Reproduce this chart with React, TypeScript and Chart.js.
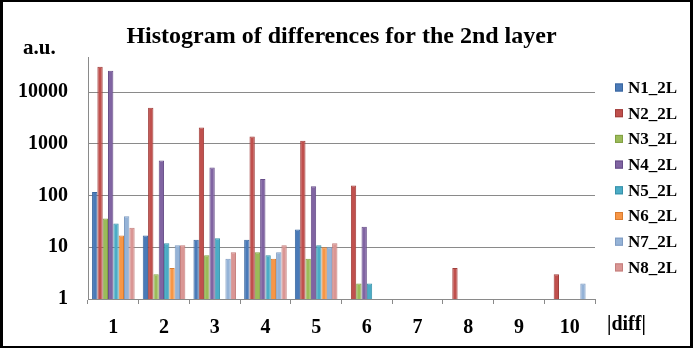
import React, { useEffect, useRef } from "react";
import { Chart, registerables } from "chart.js";

Chart.register(...registerables);

const categories = ["1", "2", "3", "4", "5", "6", "7", "8", "9", "10"];
const seriesNames = ["N1_2L", "N2_2L", "N3_2L", "N4_2L", "N5_2L", "N6_2L", "N7_2L", "N8_2L"];

const n1 = [118, 17, 14, 14, 22, null, null, null, null, null];
const n2 = [31000, 5000, 2070, 1390, 1150, 156, null, 4, null, 3];
const n3 = [36, 3, 7, 8, 6, 2, null, null, null, null];
const n4 = [26000, 480, 350, 210, 152, 25, null, null, null, null];
const n5 = [29, 12, 15, 7, 11, 2, null, null, null, null];
const n6 = [17, 4, null, 6, 10, null, null, null, null, null];
const n7 = [40, 11, 6, 8, 10, null, null, null, null, 2];
const n8 = [24, 11, 8, 11, 12, null, null, null, null, null];

const seriesValues = [n1, n2, n3, n4, n5, n6, n7, n8];

const fillColors = ["#4a7ab8", "#c0504d", "#9bbb59", "#8064a2", "#4bacc6", "#f79646", "#95b3d7", "#da9694"];
const edgeColors = ["#3a679f", "#a03e3b", "#82a043", "#664c88", "#3791a9", "#d97c30", "#7f9cc2", "#c47e7c"];

const yTickValues = [1, 10, 100, 1000, 10000];

const titleText = "Histogram of differences for the 2nd layer";
const yUnitText = "a.u.";
const xUnitText = "|diff|";

const SERIF = '"Liberation Serif", "Times New Roman", serif';

const textPlugin = {
  id: "textPlugin",
  afterDraw(chart: any) {
    const ctx = chart.ctx as CanvasRenderingContext2D;
    ctx.save();
    ctx.fillStyle = "#000";
    ctx.textBaseline = "alphabetic";
    ctx.font = `bold 24px ${SERIF}`;
    ctx.textAlign = "center";
    ctx.fillText(titleText, 341.5, 43);
    ctx.font = `bold 21px ${SERIF}`;
    ctx.textAlign = "left";
    ctx.fillText(yUnitText, 23, 53.5);
    ctx.font = `bold 20px ${SERIF}`;
    ctx.fillText(xUnitText, 607, 330);
    // legend
    ctx.font = `bold 17px ${SERIF}`;
    ctx.textBaseline = "middle";
    seriesNames.forEach((name, i) => {
      const cy = 87.5 + i * 25.7;
      ctx.fillStyle = fillColors[i];
      ctx.fillRect(615, cy - 4, 8, 8);
      ctx.strokeStyle = edgeColors[i];
      ctx.lineWidth = 1;
      ctx.strokeRect(615.5, cy - 3.5, 7, 7);
      ctx.fillStyle = "#000";
      ctx.fillText(name, 628, cy + 1);
    });
    ctx.restore();
  },
};

export default function App() {
  const canvasRef = useRef<HTMLCanvasElement | null>(null);

  useEffect(() => {
    if (!canvasRef.current) return;
    const chart = new Chart(canvasRef.current, {
      type: "bar",
      data: {
        labels: categories,
        datasets: seriesNames.map((name, i) => ({
          label: name,
          data: seriesValues[i],
          backgroundColor: fillColors[i],
          borderColor: edgeColors[i],
          borderWidth: 1,
          categoryPercentage: 0.84,
          barPercentage: 1,
        })),
      },
      options: {
        responsive: false,
        animation: false,
        devicePixelRatio: 1,
        layout: { padding: { left: 0, right: 101, top: 57, bottom: 0 } },
        plugins: {
          legend: { display: false },
          title: { display: false },
          tooltip: { enabled: false },
        },
        scales: {
          x: {
            afterFit: (scale: any) => {
              scale.height = 50;
            },
            grid: {
              display: true,
              offset: true,
              drawOnChartArea: false,
              drawTicks: true,
              tickLength: 5,
              color: "#8a8a8a",
            },
            border: { display: true, color: "#8a8a8a", width: 1 },
            ticks: {
              color: "#000",
              padding: 12,
              font: { family: SERIF, size: 20, weight: "bold" },
            },
          },
          y: {
            type: "logarithmic",
            min: 1,
            max: 48000,
            afterFit: (scale: any) => {
              scale.width = 88;
            },
            afterBuildTicks: (scale: any) => {
              scale.ticks = yTickValues.map((v) => ({ value: v }));
            },
            grid: {
              display: true,
              drawTicks: false,
              color: "#8a8a8a",
              lineWidth: 1,
            },
            border: { display: true, color: "#8a8a8a", width: 1 },
            ticks: {
              color: "#000",
              padding: 20,
              font: { family: SERIF, size: 20, weight: "bold" },
              callback: (v: any) => String(v),
            },
          },
        },
      },
      plugins: [textPlugin],
    });
    return () => chart.destroy();
  }, []);

  return (
    <div style={{ position: "fixed", left: 0, top: 0, width: 696, height: 349, background: "#fff" }}>
      <canvas ref={canvasRef} width={696} height={349} style={{ position: "absolute", left: 0, top: 0, width: 696, height: 349 }} />
      <div
        style={{
          position: "absolute",
          left: 0,
          top: 0,
          width: 693,
          height: 348,
          boxSizing: "border-box",
          borderLeft: "3px solid #000",
          borderTop: "2px solid #000",
          borderRight: "3px solid #000",
          borderBottom: "2px solid #000",
          pointerEvents: "none",
        }}
      />
    </div>
  );
}
